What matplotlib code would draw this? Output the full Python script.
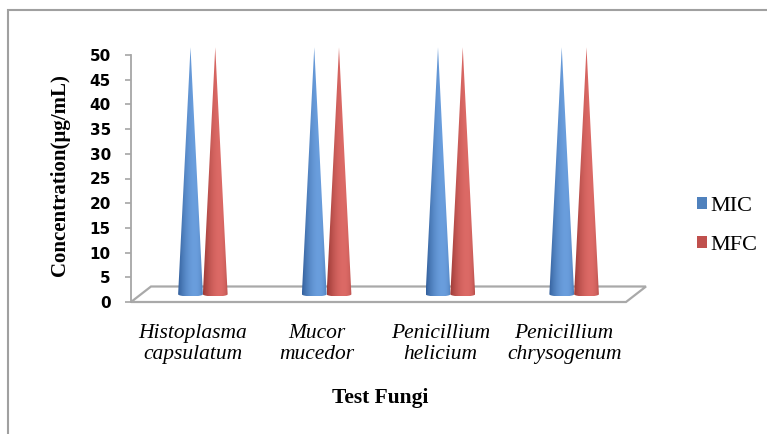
import numpy as np
import matplotlib
matplotlib.use("Agg")
import matplotlib.pyplot as plt
from matplotlib.patches import Polygon, Patch, Rectangle
from matplotlib.colors import to_rgb

# data
fungi = ["Histoplasma\ncapsulatum", "Mucor\nmucedor", "Penicillium\nhelicium", "Penicillium\nchrysogenum"]
series = ["MIC", "MFC"]
mic = [50, 50, 50, 50]
mfc = [50, 50, 50, 50]
y_ticks = list(range(0, 55, 5))

# (dark edge, highlight, legend colour)
shades = {"MIC": ("#2c5894", "#6a9edd", "#4f81bd"),
          "MFC": ("#94332f", "#dc6a66", "#c0504d")}


def draw_cone(ax, xc, y0, h, hw, ey, dark, light):
    # outline: apex + front half of the base ellipse
    th = np.linspace(np.pi, 2 * np.pi, 60)
    pts = [(xc, y0 + h)] + [(xc + hw * np.cos(a), y0 + ey * np.sin(a)) for a in th]
    cone = Polygon(pts, closed=True, facecolor="none", edgecolor="none")
    ax.add_patch(cone)

    # horizontal shading, bright a bit left of the middle
    d = np.array(to_rgb(dark))
    l = np.array(to_rgb(light))
    u = np.linspace(-1, 1, 200)
    ang = np.arccos(np.clip(u, -1, 1))
    f = ((np.cos(ang - (np.pi / 2 + 0.35)) + 1) / 2) ** 2.5
    grad = d[None, :] + (l - d)[None, :] * f[::-1, None]
    im = ax.imshow(grad[None, :, :], extent=(xc - hw, xc + hw, y0 - ey, y0 + h),
                   aspect="auto", interpolation="bilinear", zorder=3)
    im.set_clip_path(cone)
    im.set_clip_box(ax.figure.bbox)


fig = plt.figure(figsize=(7.67, 4.34), dpi=100)
ax = fig.add_axes([131 / 767, 1 - 302 / 434, 495 / 767, 247 / 434])

# depth offsets (pixels -> data units)
sx = ax.bbox.width / (len(fungi))
sy = ax.bbox.height / 50
depth_x = 20 / sx
depth_y = 15.5 / sy

# floor
x0, x1 = -0.5, len(fungi) - 0.5
floor = Polygon([(x0, 0), (x1, 0), (x1 + depth_x, depth_y), (x0 + depth_x, depth_y)],
                closed=True, facecolor="white", edgecolor="#a9a9a9", lw=1.6,
                clip_on=False, zorder=1)
ax.add_patch(floor)

# cones sit half way in the depth
cx = depth_x / 2
cy = depth_y / 2
hw = 0.1
for i in range(len(fungi)):
    for j, (name, vals) in enumerate(zip(series, [mic, mfc])):
        xc = i + (j - 0.5) * 0.2 + cx
        dark, light, _ = shades[name]
        draw_cone(ax, xc, cy, vals[i], hw, 0.45, dark, light)

ax.set_xlim(x0, x1)
ax.set_ylim(0, 50)

for s in ["top", "right", "bottom"]:
    ax.spines[s].set_visible(False)
ax.spines["left"].set_color("#a6a6a6")
ax.spines["left"].set_linewidth(1.3)
ax.set_yticks(y_ticks)
ax.tick_params(axis="y", direction="out", length=4.5, width=1.2, color="#a6a6a6", pad=10)
for t in ax.get_yticklabels():
    t.set_fontfamily("DejaVu Sans")
    t.set_fontweight("bold")
    t.set_fontsize(11)

ax.set_xticks(range(len(fungi)))
ax.set_xticklabels(fungi, fontfamily="Liberation Serif", fontstyle="italic", fontsize=15.5,
                   linespacing=1.15)
ax.tick_params(axis="x", length=0, pad=16)

fig.text(60 / 767, 1 - 175 / 434, "Concentration(µg/mL)", rotation=90, ha="center", va="center",
         fontfamily="Liberation Serif", fontweight="bold", fontsize=15)
fig.text(380 / 767, 1 - 398 / 434, "Test Fungi", ha="center", va="center",
         fontfamily="Liberation Serif", fontweight="bold", fontsize=15.5)

handles = [Patch(facecolor=shades[n][2], edgecolor="none", label=n) for n in series]
fig.legend(handles=handles, loc="center left", bbox_to_anchor=(677 / 767, 1 - 226 / 434),
           frameon=False, handlelength=0.45, handleheight=0.45, handletextpad=0.15,
           labelspacing=0.9, prop={"family": "Liberation Serif", "size": 16})

# chart border (cut off at right and bottom like the picture)
fig.add_artist(Rectangle((8 / 767, -0.5), 2, 1 - 10 / 434 + 0.5, transform=fig.transFigure,
                         fill=False, edgecolor="#a0a0a0", lw=1.5))

fig.savefig("out.png", dpi=100)
